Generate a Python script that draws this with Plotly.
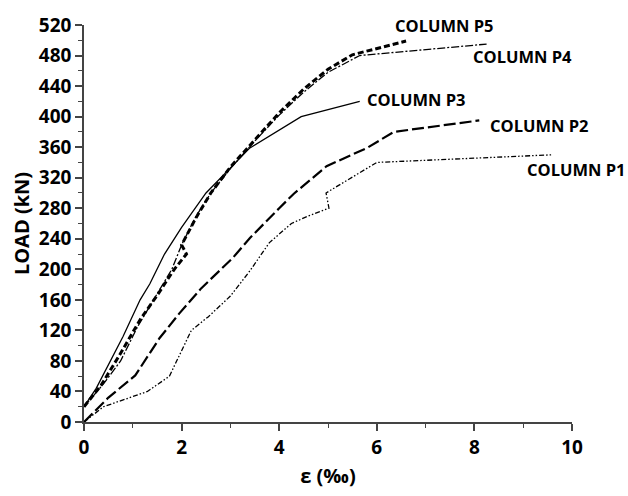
import plotly.graph_objects as go

# Column P1
p1_x = [0, 0.4, 1.3, 1.75, 2.05, 2.2, 2.55, 3.0, 3.4, 3.8, 4.25, 4.6, 5.02, 4.96, 6.0, 9.6]
p1_y = [0, 20, 40, 60, 100, 120, 138, 165, 198, 235, 260, 270, 280, 300, 340, 350]
# Column P2
p2_x = [0, 0.5, 1.05, 1.55, 1.95, 2.4, 3.05, 3.4, 4.0, 4.3, 4.97, 5.8, 6.35, 8.1]
p2_y = [0, 32, 61, 110, 142, 175, 215, 241, 280, 299, 335, 359, 380, 395]
# Column P3
p3_x = [0, 0.25, 0.8, 1.15, 1.35, 1.65, 2.0, 2.5, 3.4, 3.95, 4.45, 5.65]
p3_y = [20, 44, 112, 160, 181, 220, 255, 300, 359, 380, 400, 420]
# Column P4
p4_x = [0, 0.4, 0.75, 1.1, 1.5, 1.8, 2.0, 2.3, 2.6, 3.0, 3.5, 4.0, 4.5, 5.0, 5.65, 8.25]
p4_y = [20, 50, 80, 125, 168, 200, 232, 270, 300, 332, 368, 402, 432, 458, 480, 495]
# Column P5
p5_x = [0, 0.35, 0.75, 1.15, 1.5, 1.85, 2.1, 2.0, 2.3, 2.6, 3.0, 3.5, 4.0, 4.5, 5.0, 5.5, 6.6]
p5_y = [20, 48, 90, 134, 166, 200, 220, 232, 268, 300, 334, 370, 405, 436, 462, 481, 499]

labels = ["COLUMN P1", "COLUMN P2", "COLUMN P3", "COLUMN P4", "COLUMN P5"]
# label anchor positions, in axis units (x: ε ‰, y: kN)
label_x = [10.1, 9.34, 6.82, 8.99, 7.38]
label_y = [331, 389, 423, 479, 519]

X_RANGE = [0, 10]
Y_RANGE = [0, 520]

series = [
    (p1_x, p1_y, 1.3, "5px,2px,1.5px,2px,1.5px,2px"),
    (p2_x, p2_y, 2.2, "12px,4px"),
    (p3_x, p3_y, 1.3, "solid"),
    (p4_x, p4_y, 1.3, "8px,2px,2px,2px"),
    (p5_x, p5_y, 3.0, "6px,3px"),
]

fig = go.Figure()
for (xs, ys, w, d), name in zip(series, labels):
    fig.add_trace(go.Scatter(x=xs, y=ys, mode="lines", name=name,
                             line=dict(color="black", width=w, dash=d)))

for name, lx, ly in zip(labels, label_x, label_y):
    fx = (lx - X_RANGE[0]) / (X_RANGE[1] - X_RANGE[0])
    fy = (ly - Y_RANGE[0]) / (Y_RANGE[1] - Y_RANGE[0])
    fig.add_annotation(x=fx, y=fy, xref="paper", yref="paper", text=name, showarrow=False,
                       font=dict(family="Open Sans", size=16.5, color="black", weight="bold"),
                       xanchor="center", yanchor="middle")

tick_font = dict(family="Open Sans", size=19, color="black", weight="bold")
title_font = dict(family="Open Sans", size=20, color="black", weight="bold")
fig.update_layout(
    width=628, height=496,
    margin=dict(l=84, r=56, t=20, b=72),
    paper_bgcolor="white", plot_bgcolor="white",
    showlegend=False,
    xaxis=dict(range=X_RANGE, tickvals=[0, 2, 4, 6, 8, 10], showgrid=False, zeroline=False,
               showline=True, linecolor="#444", linewidth=1.5,
               ticks="outside", ticklen=7, tickcolor="#444", tickwidth=1.5,
               minor=dict(dtick=1, ticks="outside", ticklen=4, tickcolor="#444", tickwidth=1),
               tickfont=tick_font,
               title=dict(text="ε (‰)", font=title_font, standoff=10)),
    yaxis=dict(range=Y_RANGE, tickvals=list(range(0, 521, 40)), showgrid=False, zeroline=False,
               showline=True, linecolor="#444", linewidth=1.5,
               ticks="outside", ticklen=7, tickcolor="#444", tickwidth=1.5,
               minor=dict(dtick=20, ticks="outside", ticklen=4, tickcolor="#444", tickwidth=1),
               tickfont=tick_font,
               title=dict(text="LOAD (kN)", font=title_font, standoff=4)),
)

fig.write_html("out.html")
